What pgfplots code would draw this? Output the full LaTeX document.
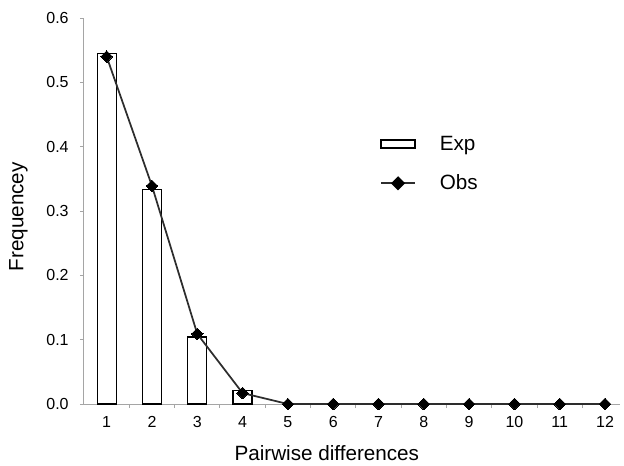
\documentclass[border=0pt]{standalone}
\usepackage{pgfplots}
\pgfplotsset{compat=1.18}
\usepackage{fontspec}
\setmainfont{Liberation Sans}
\definecolor{axgray}{RGB}{165,165,165}
\definecolor{linegray}{RGB}{45,45,45}
\begin{document}
\begin{tikzpicture}
\begin{axis}[
  scale only axis, width=402pt, height=289.5pt,
  xmin=0.5, xmax=12.33, ymin=0, ymax=0.6,
  axis x line*=bottom, axis y line*=left,
  axis line style={axgray, line width=0.75pt},
  xtick={1,2,3,4,5,6,7,8,9,10,11,12},
  ytick={0,0.1,0.2,0.3,0.4,0.5,0.6},
  minor xtick={1.5,2.5,3.5,4.5,5.5,6.5,7.5,8.5,9.5,10.5,11.5},
  every major x tick/.append style={draw=none},
  tick style={axgray, line width=0.75pt},
  tick align=outside, major tick length=3pt, minor tick length=3pt,
  /pgf/number format/assume math mode=true,
  ticklabel style={font=\fontsize{12}{14}\selectfont},
  yticklabel style={/pgf/number format/.cd, fixed, fixed zerofill, precision=1, /tikz/.cd, xshift=-5pt},
  xticklabel style={yshift=-2.5pt},
  xlabel={Pairwise differences}, ylabel={Frequencey},
  label style={font=\fontsize{15.5}{18}\selectfont, inner sep=0pt},
  xlabel style={at={(axis description cs:0.453,0)}, anchor=base, yshift=-42.5pt},
  ylabel style={at={(axis description cs:-0.1045,0.485)}, anchor=south, rotate=0},
  legend style={draw=none, fill=none, at={(axis description cs:0.552,0.702)}, anchor=north west,
    font=\fontsize{15.5}{18}\selectfont, row sep=13pt, inner sep=0pt,
    /tikz/every odd column/.append style={column sep=16pt}},
  legend cell align=left,
]
\addplot[ybar, bar width=14.25pt, fill=white, draw=black, line width=0.9pt,
  legend image code/.code={\draw[fill=white, draw=black, line width=0.9pt] (0pt,-3pt) rectangle (25.5pt,3pt);}]
  coordinates {(1,0.545) (2,0.334) (3,0.104) (4,0.021)};
\addlegendentry{Exp}
\addplot[linegray, line width=1.3pt, mark=square*, mark size=3.1pt, mark options={fill=black, draw=black, rotate=45, line width=0pt},
  legend image code/.code={\draw[linegray, line width=1.3pt] (0pt,0pt) -- (25.5pt,0pt);
     \fill[black] (12.75pt,4.4pt) -- (8.35pt,0pt) -- (12.75pt,-4.4pt) -- (17.15pt,0pt) -- cycle;}]
  coordinates {(1,0.540) (2,0.339) (3,0.109) (4,0.017) (5,0) (6,0) (7,0) (8,0) (9,0) (10,0) (11,0) (12,0)};
\addlegendentry{Obs}
\end{axis}
\path (-63pt,-45.75pt) rectangle (405pt,303pt);
\end{tikzpicture}
\end{document}
